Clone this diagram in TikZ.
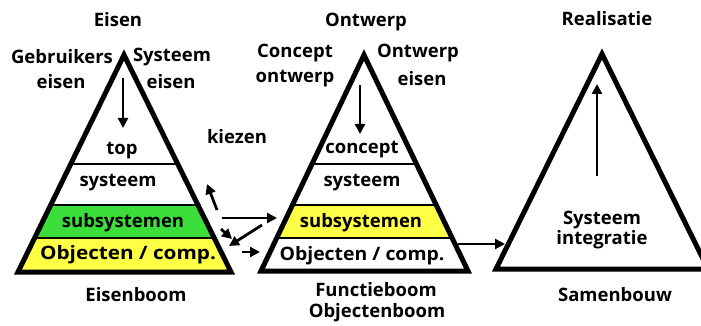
\documentclass[tikz,border=0pt]{standalone}
\usepackage{fontspec}
\setmainfont{Open Sans}
\usetikzlibrary{calc,arrows.meta}
\definecolor{bandgreen}{RGB}{60,222,60}
\definecolor{bandyellow}{RGB}{255,255,70}
\newcommand{\widetext}[2]{\scalebox{#1}[1]{#2}}
\begin{document}
\begin{tikzpicture}[x=1pt,y=-1pt,
  lbl/.style={font=\bfseries\fontsize{18.5}{20}\selectfont, inner sep=0pt, align=center},
  pyr/.style={line width=5pt, line join=miter},
  band/.style={line width=2pt},
  flow/.style={line width=2.8pt, -{Triangle[length=10pt,width=10pt]}},
]
\useasboundingbox (0,0) rectangle (701,326);
\fill[white] (0,0) rectangle (701,326);
\clip (0,0) rectangle (701,326);

% ---- pyramid corners
\coordinate (A1) at (124,55);  \coordinate (L1) at (18,272);  \coordinate (R1) at (231,272);
\coordinate (A2) at (364,55);  \coordinate (L2) at (261,271); \coordinate (R2) at (468,271);
\coordinate (A3) at (602,54);  \coordinate (L3) at (496,269); \coordinate (R3) at (708,269);

% ---- Eisenboom bands
\begin{scope}
  \clip (A1) -- (L1) -- (R1) -- cycle;
  \fill[bandgreen] (0,205) rectangle (300,238);
  \fill[bandyellow] (0,238) rectangle (300,280);
  \draw[band] (0,164) -- (300,164);
  \draw[band] (0,205) -- (300,205);
  \draw[band] (0,238) -- (300,238);
\end{scope}
\draw[pyr] (A1) -- (L1) -- (R1) -- cycle;

% ---- Functieboom bands
\begin{scope}
  \clip (A2) -- (L2) -- (R2) -- cycle;
  \fill[bandyellow] (240,205) rectangle (500,238);
  \draw[band] (240,164) -- (500,164);
  \draw[band] (240,205) -- (500,205);
  \draw[band] (240,238) -- (500,238);
\end{scope}
\draw[pyr] (A2) -- (L2) -- (R2) -- cycle;

% ---- Samenbouw
\draw[pyr] (A3) -- (L3) -- (R3) -- cycle;

% ---- labels, first pyramid
\node[lbl] (eisen)    at (118,20)  {Eisen};
\node[lbl] (gebr)     at (62,57)   {Gebruikers};
\node[lbl] (gebr2)    at (61,82)   {eisen};
\node[lbl] (syseis)   at (172,57)  {Systeem};
\node[lbl] (syseis2)  at (171,82)  {eisen};
\node[lbl] (top1)     at (122,151) {top};
\node[lbl] (sys1)     at (118,183) {systeem};
\node[lbl] (sub1)     at (123,223) {subsystemen};
\node[lbl] (obj1)     at (128,255) {\widetext{1.12}{Objecten / comp.}};
\node[lbl] (eisboom)  at (136,295) {Eisenboom};
\node[lbl] (kiezen)   at (237,137) {kiezen};

% ---- labels, second pyramid
\node[lbl] (ontw)     at (366,22)  {Ontwerp};
\node[lbl] (conc)     at (295,53)  {Concept};
\node[lbl] (conc2)    at (295,79)  {ontwerp};
\node[lbl] (ontweis)  at (418,53)  {Ontwerp};
\node[lbl] (ontweis2) at (422,79)  {eisen};
\node[lbl] (concept)  at (362,150) {concept};
\node[lbl] (sys2)     at (362,183) {systeem};
\node[lbl] (sub2)     at (361,223) {subsystemen};
\node[lbl] (obj2)     at (362,256) {\widetext{1.05}{Objecten / comp.}};
\node[lbl] (funcb)    at (376,290) {Functieboom};
\node[lbl] (objb)     at (377,313) {Objectenboom};

% ---- labels, third pyramid
\node[lbl] (real)     at (607,19)  {Realisatie};
\node[lbl] (integr)   at (602,230) {Systeem\\[0pt]integratie};
\node[lbl] (samen)    at (615,295) {Samenbouw};

% ---- arrows inside the pyramids
\coordinate (d1s) at (123,78);  \coordinate (d1e) at (123,128);
\coordinate (d2s) at (360,85);  \coordinate (d2e) at (360,134);
\coordinate (u3s) at (597,176); \coordinate (u3e) at (597,84);
\draw[flow] (d1s) -- (d1e);
\draw[flow] (d2s) -- (d2e);
\draw[flow] (u3s) -- (u3e);

% ---- arrows between the pyramids
\coordinate (k1s) at (217,210); \coordinate (k1e) at (207,184);
\coordinate (k2s) at (222,218); \coordinate (k2e) at (277,218);
\coordinate (k3s) at (221,229); \coordinate (k3e) at (232,239);
\coordinate (k4s) at (262,225); \coordinate (k4e) at (229,246);
\coordinate (k5s) at (242,252); \coordinate (k5e) at (260,252);
\coordinate (k6s) at (458,244); \coordinate (k6e) at (505,244);
\draw[flow] (k1s) -- (k1e);
\draw[flow] (k2s) -- (k2e);
\draw[flow] (k3s) -- (k3e);
\draw[flow] (k4s) -- (k4e);
\draw[flow] (k5s) -- (k5e);
\draw[flow] (k6s) -- (k6e);
\end{tikzpicture}
\end{document}
